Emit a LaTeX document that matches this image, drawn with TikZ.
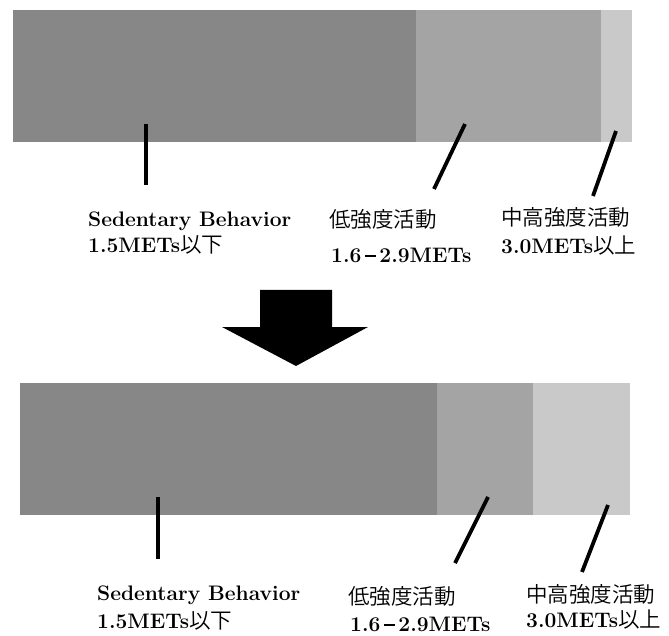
\documentclass[tikz,border=0pt]{standalone}
\usepackage{fontspec}
\newfontfamily\cjk{Noto Sans CJK JP}[UprightFont={* DemiLight},BoldFont={* DemiLight}]
\definecolor{segdark}{HTML}{878787}
\definecolor{segmid}{HTML}{A4A4A4}
\definecolor{seglight}{HTML}{C9C9C9}
\newcommand{\metdash}{\hspace{0.18em}\rule[0.26em]{0.5em}{0.09em}\hspace{0.18em}}
\newcommand{\jp}[1]{{\fontsize{21.5}{25}\selectfont\cjk #1}}
\begin{document}
\begin{tikzpicture}[x=1pt,y=-1pt,
  lbl/.style={anchor=base west,inner sep=0pt,font=\fontsize{21}{25}\selectfont\bfseries},
  jlbl/.style={anchor=base west,inner sep=0pt,font=\fontsize{21.5}{25}\selectfont\cjk},
  pointer/.style={line width=3.8pt,black}]
\useasboundingbox (0,0) rectangle (669,636);
% top bar
\fill[segdark] (13,10) rectangle (416,142);
\fill[segmid] (416,10) rectangle (601,142);
\fill[seglight] (601,10) rectangle (632,142);
\coordinate (t1a) at (146,124); \coordinate (t1b) at (146,185);
\coordinate (t2a) at (465,124); \coordinate (t2b) at (434,189);
\coordinate (t3a) at (616,131); \coordinate (t3b) at (593,196);
\draw[pointer] (t1a) -- (t1b);
\draw[pointer] (t2a) -- (t2b);
\draw[pointer] (t3a) -- (t3b);
\node[lbl] (ts1) at (88,227) {Sedentary Behavior};
\node[lbl] (ts2) at (88,253) {1.5METs\jp{以下}};
\node[jlbl] (tl1) at (329,228) {低強度活動};
\node[lbl] (tl2) at (331,262) {1.6\metdash 2.9METs};
\node[jlbl] (th1) at (501,226) {中高強度活動};
\node[lbl] (th2) at (501,254) {3.0METs\jp{以上}};
% arrow
\fill[black] (260,290) -- (332,290) -- (332,327) -- (368,327) -- (296,366) -- (222,327) -- (260,327) -- cycle;
% bottom bar
\fill[segdark] (20,383) rectangle (437,515);
\fill[segmid] (437,383) rectangle (533,515);
\fill[seglight] (533,383) rectangle (630,515);
\coordinate (b1a) at (158,497); \coordinate (b1b) at (158,559);
\coordinate (b2a) at (488,497); \coordinate (b2b) at (455,563);
\coordinate (b3a) at (608,505); \coordinate (b3b) at (582,572);
\draw[pointer] (b1a) -- (b1b);
\draw[pointer] (b2a) -- (b2b);
\draw[pointer] (b3a) -- (b3b);
\node[lbl] (bs1) at (97,600) {Sedentary Behavior};
\node[lbl] (bs2) at (97,628) {1.5METs\jp{以下}};
\node[jlbl] (bl1) at (348,604) {低強度活動};
\node[lbl] (bl2) at (350,631) {1.6\metdash 2.9METs};
\node[jlbl] (bh1) at (526,602) {中高強度活動};
\node[lbl] (bh2) at (526,627) {3.0METs\jp{以上}};
\end{tikzpicture}
\end{document}
